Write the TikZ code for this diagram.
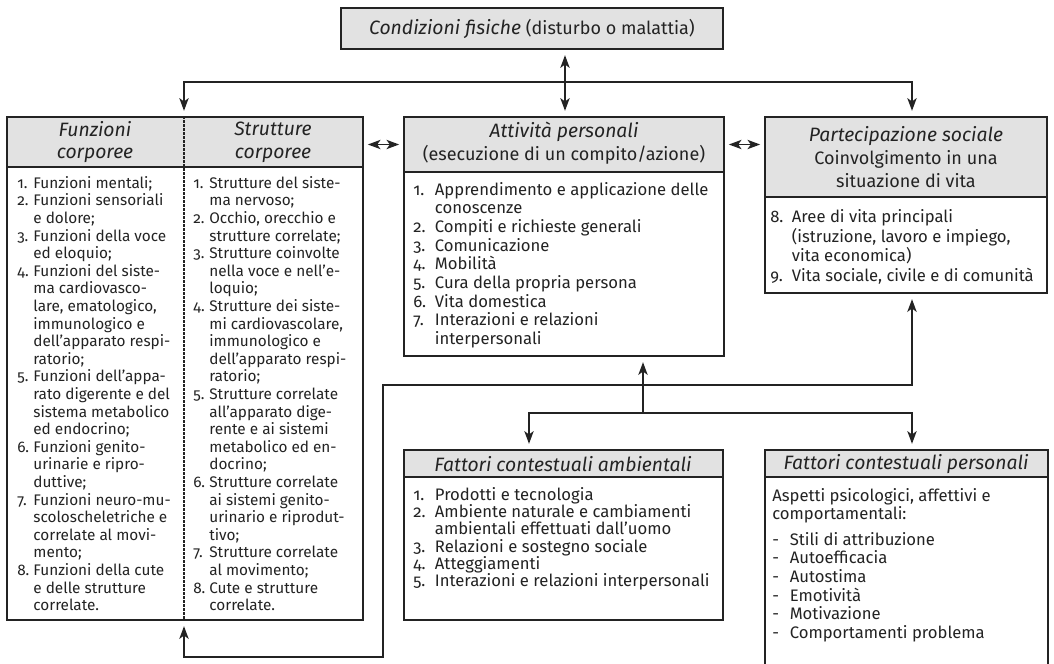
\documentclass[tikz,border=0pt]{standalone}
\usepackage{fontspec}
\IfFontExistsTF{FiraSans-Light.otf}
  {\setmainfont{FiraSans-Light.otf}[ItalicFont=FiraSans-LightItalic.otf,Numbers=OldStyle]}
  {\setmainfont{Fira Sans}[Numbers=OldStyle]}
\usepackage{tikz}
\usetikzlibrary{arrows.meta,fit,calc}

\definecolor{hdrgray}{RGB}{226,226,226}
\definecolor{ink}{RGB}{35,35,35}
\newcommand{\nr}[1]{\makebox[1.05em][l]{#1}}
\newcommand{\ct}{\hspace*{1.05em}}
\newcommand{\nrw}[1]{\makebox[1.3em][l]{#1}}
\newcommand{\ctw}{\hspace*{1.3em}}
\newcommand{\hit}[1]{{\fontsize{14.5}{17}\selectfont\itshape #1}}

\begin{document}
\begin{tikzpicture}[x=0.75pt,y=-0.75pt,
    >={Stealth[length=9.5pt,width=7pt,inset=2.5pt]},
    frame/.style={draw=ink,line width=1.3pt,inner sep=0pt},
    hdr/.style={frame,fill=hdrgray},
    bdy/.style={frame,fill=white},
    hd/.style={align=center,text=ink,inner sep=0pt,font=\fontsize{13.5}{17}\selectfont},
    lst/.style={anchor=north west,inner sep=0pt,align=left,text=ink},
    lnk/.style={draw=ink,line width=1.1pt,shorten >=4pt}]
  \fill[white] (0,0) rectangle (1054,664);
  \useasboundingbox (0,0) rectangle (1054,664);

  % boxes
  \node[hdr,fit={(341,8) (723,49)}] (cond) {};
  \node[hdr,fit={(7,117) (363,167)}] (corpoh) {};
  \node[bdy,fit={(7,167) (363,620)}] (corpob) {};
  \node[hdr,fit={(404,117) (724,172)}] (atth) {};
  \node[bdy,fit={(404,172) (724,356)}] (attb) {};
  \node[hdr,fit={(765,117) (1047,197)}] (parth) {};
  \node[bdy,fit={(765,197) (1047,293)}] (partb) {};
  \node[hdr,fit={(404,450) (723,477)}] (ambh) {};
  \node[bdy,fit={(404,477) (723,620)}] (ambb) {};
  \node[hdr,fit={(765,450) (1048,477)}] (persh) {};
  \node[bdy,fit={(765,477) (1048,690)}] (persb) {};

  % headings
  \node[hd] (condt) at (532,29) {\hit{Condizioni fisiche} (disturbo o malattia)};
  \node[hd] (funz) at (95,142) {\hit{Funzioni}\\\hit{corporee}};
  \node[hd] (strut) at (273,142) {\hit{Strutture}\\\hit{corporee}};
  \node[hd] (attt) at (564,143) {\hit{Attività personali}\\(esecuzione di un compito/azione)};
  \node[hd] (partt) at (906,157) {\hit{Partecipazione sociale}\\Coinvolgimento in una\\situazione di vita};
  \node[hd] (ambt) at (563,464) {\hit{Fattori contestuali ambientali}};
  \node[hd] (perst) at (906,464) {\hit{Fattori contestuali personali}};

  % lists
  \node[lst,font=\fontsize{11.5}{13.2}\selectfont] (funzl) at (17,176) {%
    \nr{1.}Funzioni mentali;\\
    \nr{2.}Funzioni sensoriali\\
    \ct e dolore;\\
    \nr{3.}Funzioni della voce\\
    \ct ed eloquio;\\
    \nr{4.}Funzioni del siste-\\
    \ct ma cardiovasco-\\
    \ct lare, ematologico,\\
    \ct immunologico e\\
    \ct dell’apparato respi-\\
    \ct ratorio;\\
    \nr{5.}Funzioni dell’appa-\\
    \ct rato digerente e del\\
    \ct sistema metabolico\\
    \ct ed endocrino;\\
    \nr{6.}Funzioni genito-\\
    \ct urinarie e ripro-\\
    \ct duttive;\\
    \nr{7.}Funzioni neuro-mu-\\
    \ct scoloscheletriche e\\
    \ct correlate al movi-\\
    \ct mento;\\
    \nr{8.}Funzioni della cute\\
    \ct e delle strutture\\
    \ct correlate.};
  \node[lst,font=\fontsize{11.5}{13.2}\selectfont] (strutl) at (193,176) {%
    \nr{1.}Strutture del siste-\\
    \ct ma nervoso;\\
    \nr{2.}Occhio, orecchio e\\
    \ct strutture correlate;\\
    \nr{3.}Strutture coinvolte\\
    \ct nella voce e nell’e-\\
    \ct loquio;\\
    \nr{4.}Strutture dei siste-\\
    \ct mi cardiovascolare,\\
    \ct immunologico e\\
    \ct dell’apparato respi-\\
    \ct ratorio;\\
    \nr{5.}Strutture correlate\\
    \ct all’apparato dige-\\
    \ct rente e ai sistemi\\
    \ct metabolico ed en-\\
    \ct docrino;\\
    \nr{6.}Strutture correlate\\
    \ct ai sistemi genito-\\
    \ct urinario e riprodut-\\
    \ct tivo;\\
    \nr{7.}Strutture correlate\\
    \ct al movimento;\\
    \nr{8.}Cute e strutture\\
    \ct correlate.};
  \node[lst,font=\fontsize{12.5}{14}\selectfont] (attl) at (413,182) {%
    \nrw{1.}Apprendimento e applicazione delle\\
    \ctw conoscenze\\
    \nrw{2.}Compiti e richieste generali\\
    \nrw{3.}Comunicazione\\
    \nrw{4.}Mobilità\\
    \nrw{5.}Cura della propria persona\\
    \nrw{6.}Vita domestica\\
    \nrw{7.}Interazioni e relazioni\\
    \ctw interpersonali};
  \node[lst,font=\fontsize{12.5}{14.8}\selectfont] (partl) at (770,209) {%
    \nrw{8.}Aree di vita principali\\
    \ctw (istruzione, lavoro e impiego,\\
    \ctw vita economica)\\
    \nrw{9.}Vita sociale, civile e di comunità};
  \node[lst,font=\fontsize{12.5}{13}\selectfont] (ambl) at (413,487) {%
    \nrw{1.}Prodotti e tecnologia\\
    \nrw{2.}Ambiente naturale e cambiamenti\\
    \ctw ambientali effettuati dall’uomo\\
    \nrw{3.}Relazioni e sostegno sociale\\
    \nrw{4.}Atteggiamenti\\
    \nrw{5.}Interazioni e relazioni interpersonali};
  \node[lst,font=\fontsize{12.5}{14}\selectfont] (persl) at (772,488) {%
    Aspetti psicologici, affettivi e\\
    comportamentali:\\[5pt]
    \nr{-}Stili di attribuzione\\
    \nr{-}Autoefficacia\\
    \nr{-}Autostima\\
    \nr{-}Emotività\\
    \nr{-}Motivazione\\
    \nr{-}Comportamenti problema};

  % divider
  \coordinate (dv) at (184,0);
  \draw[ink,line width=1pt,dash pattern=on 2pt off 1pt] (corpoh.north -| dv) -- (corpob.south -| dv);

  % connectors
  \coordinate (rx) at (912,0);
  \coordinate (lx) at (529,0);
  \coordinate (tj) at (565,82);
  \coordinate (mj) at (643,413);
  \coordinate (c1) at (383,385);
  \coordinate (c2) at (383,657);
  \draw[lnk,<->,shorten <=4pt] (cond.south -| tj) -- (atth.north -| tj);
  \draw[lnk,<->,shorten <=4pt] (corpoh.north -| dv) |- (tj) -| (parth.north -| rx);
  \draw[lnk,<->,shorten <=3pt,shorten >=3pt] (corpoh.east |- atth.west) -- (atth.west);
  \draw[lnk,<->,shorten <=3pt,shorten >=3pt] (atth.east) -- (parth.west |- atth.east);
  \draw[lnk,<->,shorten <=4pt] (partb.south -| rx) |- (c1) -- (c2) -| (corpob.south -| dv);
  \draw[lnk,<->,shorten <=4pt] (ambh.north -| lx) |- (mj) -| (persh.north -| rx);
  \draw[lnk,->] (mj) -- (attb.south -| mj);
\end{tikzpicture}
\end{document}
